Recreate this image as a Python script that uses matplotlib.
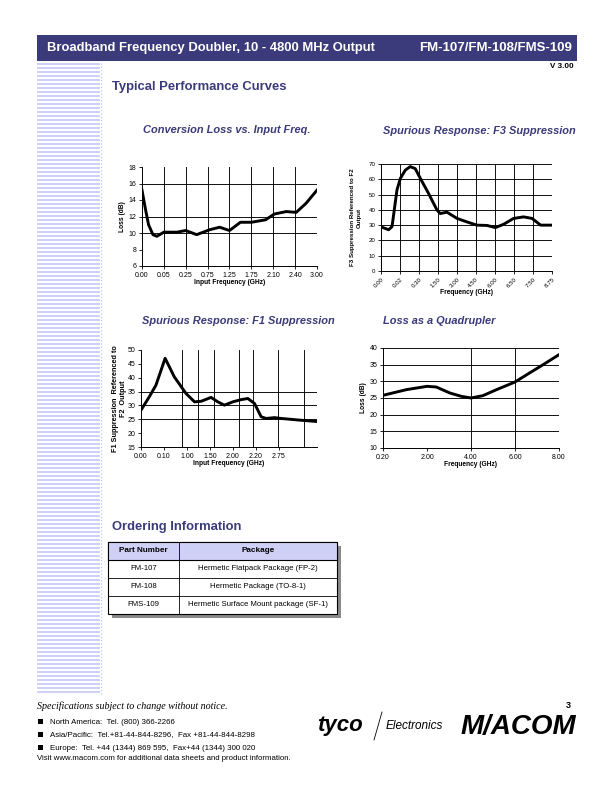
import numpy as np
import matplotlib
matplotlib.use('Agg')
import matplotlib.pyplot as plt
from matplotlib.patches import Rectangle

plt.rcParams['font.family'] = ['Liberation Sans', 'DejaVu Sans']

NAVY = '#3b3a7a'
LAV = '#cfd0f5'

# conversion loss vs input freq (x = category index)
conv_labels = ['0.00', '0.05', '0.25', '0.75', '1.25', '1.75', '2.10', '2.40', '3.00']
conv_x = [0, 0.15, 0.3, 0.5, 0.68, 1.0, 1.6, 2.0, 2.5, 3.1, 3.55, 4.0, 4.5, 5.0, 5.65, 6.05, 6.6, 7.05, 7.5, 8.0]
conv_y = [15.2, 13.0, 11.0, 9.8, 9.6, 10.1, 10.1, 10.3, 9.8, 10.4, 10.7, 10.3, 11.3, 11.3, 11.6, 12.3, 12.6, 12.5, 13.6, 15.2]

# F3 suppression
f3_labels = ['0.00', '0.02', '0.30', '1.50', '3.00', '4.50', '6.00', '6.50', '7.50', '8.75']
f3_x = [0, 0.4, 0.58, 0.84, 1.02, 1.28, 1.54, 1.8, 2.07, 2.5, 2.95, 3.12, 3.47, 4.0, 4.5, 5.05, 5.58, 6.02, 6.46, 6.98, 7.5, 7.95, 8.4, 9.0]
f3_y = [28.9, 27.0, 29.0, 53.0, 60.6, 66.0, 68.3, 67.0, 60.6, 50.8, 39.8, 37.6, 38.5, 34.4, 32.2, 30.0, 29.8, 28.4, 30.6, 34.4, 35.4, 34.4, 30.0, 30.0]

# F1 suppression
f1_labels = ['0.00', '0.10', '1.00', '1.50', '2.00', '2.20', '2.75']
f1_grid = [1.77, 2.5, 3.18, 4.26, 4.87, 5.96, 7.08, 7.66]
f1_x = [0, 0.36, 0.65, 1.05, 1.45, 1.96, 2.33, 2.62, 3.05, 3.34, 3.63, 4.0, 4.36, 4.65, 4.94, 5.23, 5.45, 5.81, 6.1, 6.9, 7.66]
f1_y = [28.3, 33.1, 37.3, 47.0, 40.3, 34.3, 31.3, 31.5, 32.9, 31.3, 30.1, 31.3, 32.1, 32.5, 30.7, 25.9, 25.3, 25.6, 25.3, 24.7, 24.2]

# loss as a quadrupler
quad_labels = ['0.20', '2.00', '4.00', '6.00', '8.00']
quad_x = [0, 0.53, 1.0, 1.21, 1.52, 1.78, 2.0, 2.27, 2.58, 3.0, 3.33, 3.64, 4.0]
quad_y = [25.8, 27.5, 28.5, 28.3, 26.5, 25.5, 25.0, 25.7, 27.5, 29.8, 32.5, 35.0, 38.0]

parts = ['FM-107', 'FM-108', 'FMS-109']
packages = ['Hermetic Flatpack Package (FP-2)', 'Hermetic Package (TO-8-1)',
            'Hermetic Surface Mount package (SF-1)']

fig = plt.figure(figsize=(6.12, 7.92), dpi=100)
bg = fig.add_axes([0, 0, 1, 1])
bg.set_xlim(0, 612)
bg.set_ylim(792, 0)
bg.axis('off')

# header
bg.add_patch(Rectangle((37, 35), 540, 26, color=NAVY, lw=0))
bg.text(47, 48, 'Broadband Frequency Doubler, 10 - 4800 MHz Output', color='white',
        fontsize=9.4, fontweight='bold', va='center')
bg.text(572, 48, 'FM-107/FM-108/FMS-109', color='white', fontsize=9.5,
        fontweight='bold', va='center', ha='right')
bg.text(574, 67, 'V 3.00', fontsize=5.8, fontweight='bold', ha='right', va='center')

# left stripes
for y in range(63, 695, 4):
    bg.add_patch(Rectangle((37, y), 63, 2, color=LAV, lw=0))
bg.plot([101, 101], [63, 695], ls=(0, (1, 2)), color='#b8baf2', lw=0.8)

bg.text(112, 87, 'Typical Performance Curves', color=NAVY, fontsize=9.4,
        fontweight='bold', va='center')

# chart titles
tkw = dict(color=NAVY, fontsize=7.9, fontweight='bold', style='italic', va='center')
bg.text(143, 130, 'Conversion Loss vs. Input Freq.', **tkw)
bg.text(383, 131, 'Spurious Response: F3 Suppression', **tkw)
bg.text(142, 321, 'Spurious Response: F1 Suppression', **tkw)
bg.text(383, 321, 'Loss as a Quadrupler', **tkw)


def px_axes(l, t, r, b):
    ax = fig.add_axes([l / 612, 1 - b / 792, (r - l) / 612, (b - t) / 792])
    for s in ['top', 'right']:
        ax.spines[s].set_visible(False)
    for s in ['left', 'bottom']:
        ax.spines[s].set_linewidth(0.7)
    ax.tick_params(labelsize=5.0, length=2, width=0.6, pad=2)
    return ax


lkw = dict(fontsize=4.8, fontweight='bold')
gkw = dict(color='black', lw=0.65, zorder=1)

# chart 1
ax1 = px_axes(142, 167, 317, 266)
ax1.plot(conv_x, conv_y, color='black', lw=2.1, solid_joinstyle='round', zorder=3)
ax1.set_xlim(0, 8)
ax1.set_ylim(6, 18)
ax1.set_xticks(range(len(conv_labels)))
ax1.set_xticklabels(conv_labels)
ax1.set_yticks(np.arange(6, 19, 2))
for i in range(1, 9):
    ax1.axvline(i, **gkw)
for v in [10, 12, 16]:
    ax1.axhline(v, **gkw)
ax1.set_xlabel('Input Frequency (GHz)', labelpad=0.5, **lkw)
ax1.set_ylabel('Loss (dB)', labelpad=2, **lkw)

# chart 2
ax2 = px_axes(381, 164, 552, 271)
ax2.plot(f3_x, f3_y, color='black', lw=2.1, solid_joinstyle='round', zorder=3)
ax2.set_xlim(0, 9)
ax2.set_ylim(0, 70)
ax2.set_xticks(range(len(f3_labels)))
ax2.set_xticklabels(f3_labels, rotation=45, ha='right', rotation_mode='anchor', fontsize=4.4)
ax2.set_yticks(np.arange(0, 71, 10))
ax2.tick_params(axis='y', labelsize=4.4)
for i in range(1, 10):
    ax2.axvline(i, **gkw)
for v in range(10, 71, 10):
    ax2.axhline(v, **gkw)
ax2.set_xlabel('Frequency (GHz)', labelpad=0, **lkw)
ax2.set_ylabel('F3 Suppression Referenced to F2\nOutput', labelpad=5,
               fontsize=4.4, fontweight='bold', linespacing=1.5)

# chart 3
ax3 = px_axes(141, 350, 317, 447)
ax3.plot(f1_x, f1_y, color='black', lw=2.1, solid_joinstyle='round', zorder=3)
ax3.set_xlim(0, 7.66)
ax3.set_ylim(15, 50)
ax3.set_xticks(range(len(f1_labels)))
ax3.set_xticklabels(f1_labels)
ax3.set_yticks(np.arange(15, 51, 5))
for g in f1_grid:
    ax3.axvline(g, **gkw)
for v in [25, 30, 35]:
    ax3.axhline(v, **gkw)
ax3.set_xlabel('Input Frequency (GHz)', labelpad=0.5, **lkw)
ax3.set_ylabel('F1 Suppression  Referenced to\nF2  Output', labelpad=0.5,
               fontsize=5.2, fontweight='bold', linespacing=1.1)

# chart 4
ax4 = px_axes(383, 348, 559, 448)
ax4.plot(quad_x, quad_y, color='black', lw=2.1, solid_joinstyle='round', zorder=3)
ax4.set_xlim(0, 4)
ax4.set_ylim(10, 40)
ax4.set_xticks(range(len(quad_labels)))
ax4.set_xticklabels(quad_labels)
ax4.set_yticks(np.arange(10, 41, 5))
for i in [2, 3, 4]:
    ax4.axvline(i, **gkw)
for v in range(15, 41, 5):
    ax4.axhline(v, **gkw)
ax4.set_xlabel('Frequency (GHz)', labelpad=0.5, **lkw)
ax4.set_ylabel('Loss (dB)', labelpad=2, **lkw)

# ordering information
bg.text(112, 527, 'Ordering Information', color=NAVY, fontsize=9.4,
        fontweight='bold', va='center')
tl, tr, tt, row_h, split = 108, 337, 542, 18, 179
n_rows = len(parts) + 1
bg.add_patch(Rectangle((tl + 4, tt + 4), tr - tl, row_h * n_rows, color='#8a8a8a', lw=0))
bg.add_patch(Rectangle((tl, tt), tr - tl, row_h * n_rows, facecolor='white', edgecolor='black', lw=0.8))
bg.add_patch(Rectangle((tl, tt), tr - tl, row_h, facecolor=LAV, edgecolor='black', lw=0.8))
for k in range(1, n_rows):
    bg.plot([tl, tr], [tt + k * row_h] * 2, color='black', lw=0.6)
bg.plot([split, split], [tt, tt + row_h * n_rows], color='black', lw=0.6)
bg.text((tl + split) / 2, tt + row_h / 2, 'Part Number', fontsize=5.9, fontweight='bold',
        ha='center', va='center')
bg.text((split + tr) / 2, tt + row_h / 2, 'Package', fontsize=5.9, fontweight='bold',
        ha='center', va='center')
for k, (p, pk) in enumerate(zip(parts, packages)):
    yc = tt + (k + 1.5) * row_h
    bg.text((tl + split) / 2, yc, p, fontsize=5.6, ha='center', va='center')
    bg.text((split + tr) / 2, yc, pk, fontsize=5.6, ha='center', va='center')

# footer
bg.text(37, 706, 'Specifications subject to change without notice.', fontsize=7.2,
        style='italic', family='Liberation Serif', va='center')
contacts = ['North America:  Tel. (800) 366-2266',
            'Asia/Pacific:  Tel.+81-44-844-8296,  Fax +81-44-844-8298',
            'Europe:  Tel. +44 (1344) 869 595,  Fax+44 (1344) 300 020']
for k, c in enumerate(contacts):
    yc = 722 + k * 13
    bg.add_patch(Rectangle((38, yc - 3), 5, 5, color='black', lw=0))
    bg.text(50, yc, c, fontsize=5.7, va='center')
bg.text(37, 758, 'Visit www.macom.com for additional data sheets and product information.',
        fontsize=5.6, va='center')
bg.text(568, 705, '3', fontsize=6.5, fontweight='bold', ha='center', va='center')

bg.text(317, 726, 'tyco', fontsize=16, fontweight='bold', style='italic', va='center')
bg.plot([374, 382], [740, 712], color='black', lw=0.6)
bg.text(386, 726, 'Electronics', fontsize=8.5, style='italic', va='center')
bg.text(461, 727, 'M/ACOM', fontsize=20, fontweight='bold', style='italic', va='center')

fig.savefig('out.png', dpi=100)
